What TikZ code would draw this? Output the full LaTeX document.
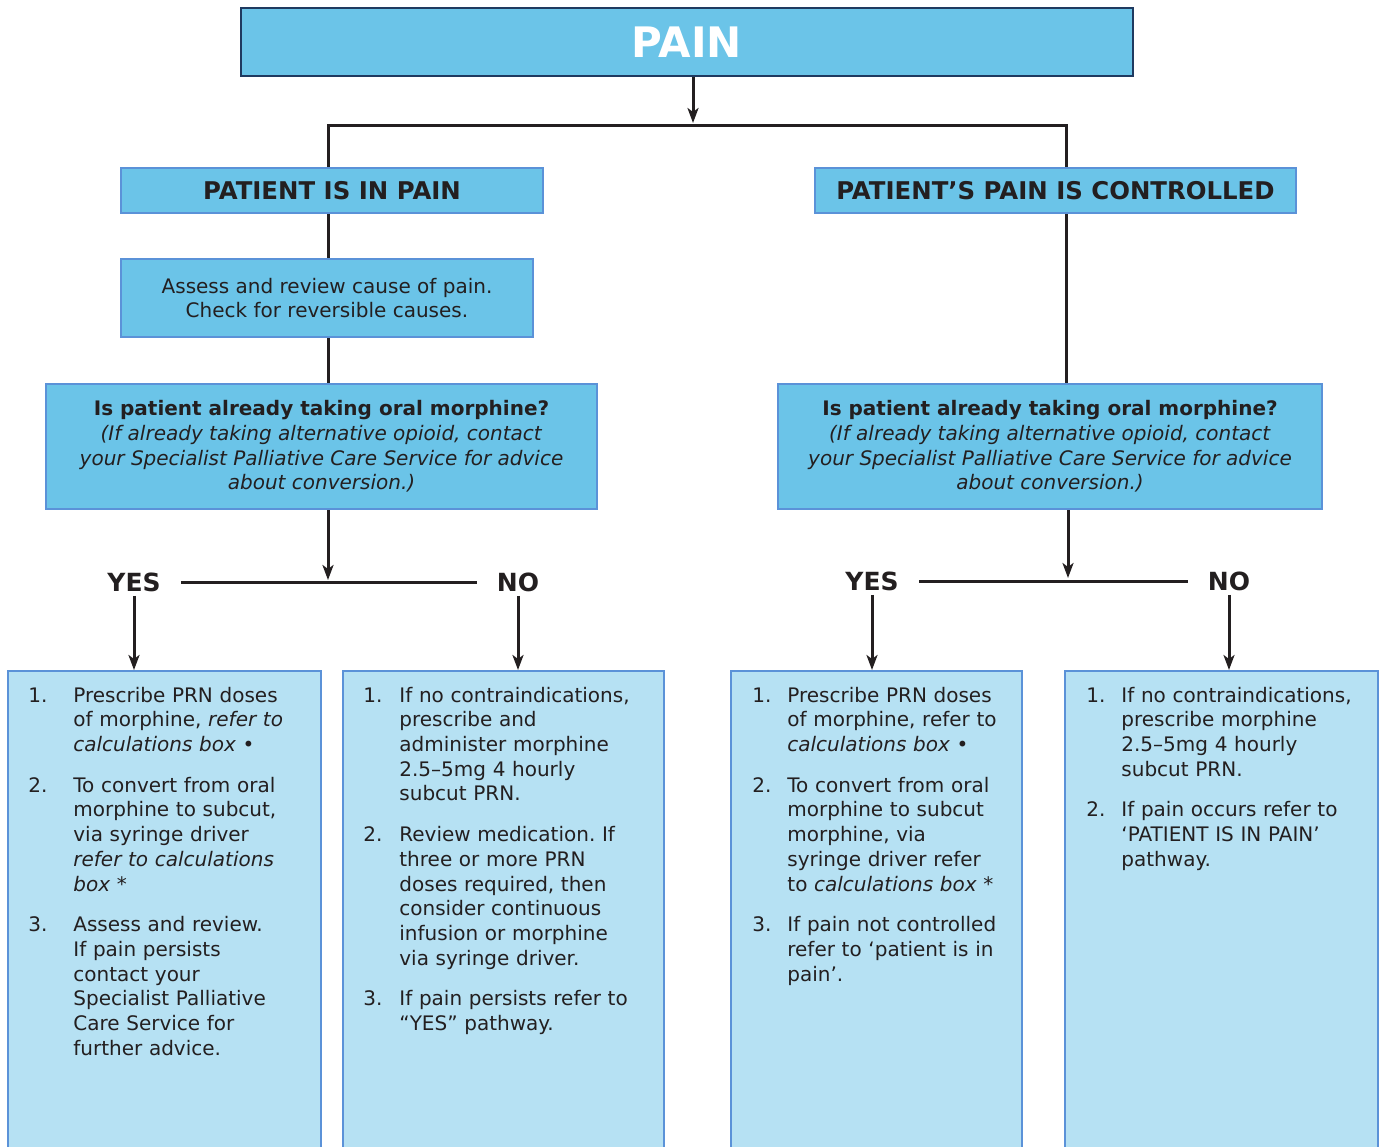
\documentclass[tikz,border=0pt]{standalone}
\usepackage{fontspec}
\setmainfont{DejaVu Sans}
\usetikzlibrary{arrows.meta}
\definecolor{headfill}{HTML}{6BC4E8}
\definecolor{stepfill}{HTML}{B6E1F3}
\definecolor{boxline}{HTML}{5B92D8}
\definecolor{titleline}{HTML}{1F3A60}
\definecolor{ink}{HTML}{231F20}
\frenchspacing
\newcommand\stepitem[3][17.5pt]{\par\noindent\makebox[#1][l]{#2}%
  \begin{tabular}[t]{@{}l@{}}#3\end{tabular}\par\vspace{7pt}}

\begin{document}
\begin{tikzpicture}[
  x=.5pt,y=-.5pt,font=\fontsize{10}{12.35}\selectfont,text=ink,
  head/.style={draw=boxline,line width=1pt,fill=headfill,inner sep=2pt,align=center},
  title/.style={head,draw=titleline,text=white,font=\fontsize{21}{24}\selectfont\bfseries},
  banner/.style={head,font=\fontsize{12.2}{14}\selectfont\bfseries},
  stepbox/.style={draw=boxline,line width=1pt,fill=stepfill,anchor=north,minimum height=240pt},
  steptext/.style={anchor=north west,inner sep=0pt,align=left},
  answer/.style={font=\fontsize{12.5}{14}\selectfont\bfseries,inner xsep=10pt,inner ysep=2pt},
  link/.style={draw=ink,line width=1.5pt},
  flow/.style={link,-{Stealth[length=7.5pt,width=5.5pt,inset=2pt]}}
]
\path[use as bounding box] (0,0) rectangle (1381,1146);
\clip (0,0) rectangle (1381,1146);

% top of the tree
\node[title,minimum width=446pt,minimum height=34pt] (pain) at (687,42) {PAIN};
\node[banner,minimum width=211pt,minimum height=22.5pt] (inpain) at (332,190.5) {PATIENT IS IN PAIN};
\node[banner,minimum width=240.5pt,minimum height=22.5pt] (controlled) at (1055.5,190.5) {PATIENT’S PAIN IS CONTROLLED};
\node[head,minimum width=206pt,minimum height=39pt] (assess) at (327,298)
  {Assess and review cause of pain.\\Check for reversible causes.};
\node[head,minimum width=275.5pt,minimum height=62.5pt] (askL) at (321.5,446.5)
  {\textbf{Is patient already taking oral morphine?}\\
   \textit{(If already taking alternative opioid, contact}\\
   \textit{your Specialist Palliative Care Service for advice}\\
   \textit{about conversion.)}};
\node[head,minimum width=272pt,minimum height=62.5pt] (askR) at (1050,446.5)
  {\textbf{Is patient already taking oral morphine?}\\
   \textit{(If already taking alternative opioid, contact}\\
   \textit{your Specialist Palliative Care Service for advice}\\
   \textit{about conversion.)}};

\coordinate (splitTop) at (693,123);
\coordinate (brL) at (328,125);
\coordinate (brR) at (1066,125);
\draw[flow] (pain.south -| splitTop) -- (splitTop);
\draw[link] (inpain.north -| brL) |- (brR) -- (controlled.north -| brR);
\draw[link] (inpain.south -| brL) -- (assess.north -| brL);
\draw[link] (assess.south -| brL) -- (askL.north -| brL);
\draw[link] (controlled.south -| brR) -- (askR.north -| brR);

% yes / no split
\node[answer] (yesL) at (134,582) {YES};
\node[answer] (noL) at (518,582) {NO};
\node[answer] (yesR) at (872,581) {YES};
\node[answer] (noR) at (1229,581) {NO};
\coordinate (forkL) at (328,580);
\coordinate (forkR) at (1068,578);
\draw[link] (yesL) -- (noL);
\draw[link] (yesR) -- (noR);
\draw[flow] (askL.south -| forkL) -- (forkL);
\draw[flow] (askR.south -| forkR) -- (forkR);

% step boxes
\node[stepbox,minimum width=156.5pt] (stepL1) at (164.5,670) {};
\node[stepbox,minimum width=160.5pt] (stepL2) at (503.5,670) {};
\node[stepbox,minimum width=145.5pt] (stepR1) at (876.5,670) {};
\node[stepbox,minimum width=156.5pt] (stepR2) at (1221.5,670) {};
\draw[flow] (yesL.south) -- (yesL.south |- stepL1.north);
\draw[flow] (noL.south) -- (noL.south |- stepL2.north);
\draw[flow] (yesR.south) -- (yesR.south |- stepR1.north);
\draw[flow] (noR.south) -- (noR.south |- stepR2.north);

\node[steptext,text width=140pt] (stepL1txt) at (28,677) {%
  \stepitem[22.5pt]{1.}{Prescribe PRN doses\\of morphine, \textit{refer to}\\\textit{calculations box} •}
  \stepitem[22.5pt]{2.}{To convert from oral\\morphine to subcut,\\via syringe driver\\\textit{refer to calculations}\\\textit{box} *}
  \stepitem[22.5pt]{3.}{Assess and review.\\If pain persists\\contact your\\Specialist Palliative\\Care Service for\\further advice.}};
\node[steptext,text width=145pt] (stepL2txt) at (363,677) {%
  \stepitem[18pt]{1.}{If no contraindications,\\prescribe and\\administer morphine\\2.5–5mg 4 hourly\\subcut PRN.}
  \stepitem[18pt]{2.}{Review medication. If\\three or more PRN\\doses required, then\\consider continuous\\infusion or morphine\\via syringe driver.}
  \stepitem[18pt]{3.}{If pain persists refer to\\“YES” pathway.}};
\node[steptext,text width=130pt] (stepR1txt) at (752,677) {%
  \stepitem[17.5pt]{1.}{Prescribe PRN doses\\of morphine, refer to\\\textit{calculations box} •}
  \stepitem[17.5pt]{2.}{To convert from oral\\morphine to subcut\\morphine, via\\syringe driver refer\\to \textit{calculations box} *}
  \stepitem[17.5pt]{3.}{If pain not controlled\\refer to ‘patient is in\\pain’.}};
\node[steptext,text width=140pt] (stepR2txt) at (1086,677) {%
  \stepitem[17.5pt]{1.}{If no contraindications,\\prescribe morphine\\2.5–5mg 4 hourly\\subcut PRN.}
  \stepitem[17.5pt]{2.}{If pain occurs refer to\\‘PATIENT IS IN PAIN’\\pathway.}};
\end{tikzpicture}
\end{document}
